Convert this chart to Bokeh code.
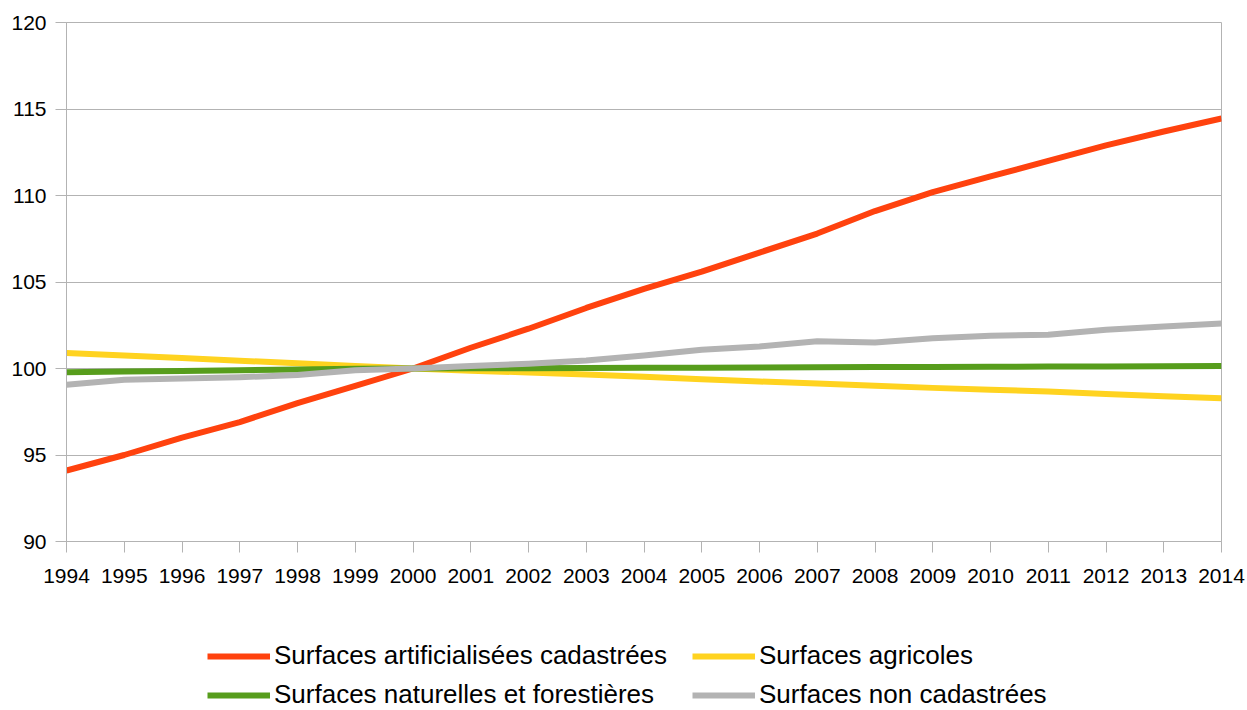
from bokeh.plotting import figure
from bokeh.models import Range1d, FixedTicker, Legend, LegendItem
from bokeh.layouts import column
from bokeh.embed import file_html
from bokeh.resources import INLINE

years = list(range(1994, 2015))
artificialisees = [94.1, 95.0, 96.0, 96.9, 98.0, 99.0, 100.0, 101.2, 102.3, 103.5, 104.6,
                   105.6, 106.7, 107.8, 109.1, 110.2, 111.1, 112.0, 112.9, 113.7, 114.45]
agricoles = [100.9, 100.75, 100.6, 100.45, 100.3, 100.15, 100.0, 99.87, 99.77, 99.66, 99.52,
             99.38, 99.25, 99.13, 99.0, 98.88, 98.77, 98.67, 98.53, 98.4, 98.28]
naturelles = [99.78, 99.82, 99.86, 99.9, 99.94, 99.98, 100.0, 100.01, 100.02, 100.03, 100.04,
              100.05, 100.06, 100.07, 100.08, 100.09, 100.1, 100.11, 100.12, 100.13, 100.14]
non_cadastrees = [99.06, 99.35, 99.42, 99.5, 99.62, 99.9, 100.0, 100.15, 100.27, 100.46, 100.75,
                  101.08, 101.27, 101.58, 101.5, 101.75, 101.9, 101.95, 102.24, 102.43, 102.6]

series_names = ["Surfaces artificialisées cadastrées", "Surfaces agricoles",
                "Surfaces naturelles et forestières", "Surfaces non cadastrées"]
series_values = [artificialisees, agricoles, naturelles, non_cadastrees]
colors = ["#ff420e", "#ffd320", "#579d1c", "#b3b3b3"]

y_ticks = [90, 95, 100, 105, 110, 115, 120]

FONT = "Liberation Sans"
GRID = "#b3b3b3"

# ---- main chart ----
p = figure(width=1247, height=600, output_backend="svg", toolbar_location=None,
           x_range=Range1d(1994, 2014), y_range=Range1d(90, 120),
           min_border_left=66, min_border_right=26, min_border_top=22, min_border_bottom=59)

p.background_fill_color = "white"
p.border_fill_color = "white"
p.outline_line_color = GRID
p.outline_line_width = 1

p.xgrid.visible = False
p.ygrid.grid_line_color = GRID
p.ygrid.grid_line_width = 1

p.xaxis.ticker = FixedTicker(ticks=years)
p.yaxis.ticker = FixedTicker(ticks=y_ticks)
for ax in (p.xaxis, p.yaxis):
    ax.axis_line_color = GRID
    ax.axis_line_width = 1
    ax.major_tick_line_color = GRID
    ax.major_tick_out = 11
    ax.major_tick_in = 0
    ax.minor_tick_line_color = None
    ax.major_label_text_font = FONT
    ax.major_label_text_font_size = "21px"
    ax.major_label_text_color = "black"
p.xaxis.major_label_standoff = 16
p.yaxis.major_label_standoff = 9

for vals, col in zip(series_values, colors):
    p.line(years, vals, line_color=col, line_width=6, line_join="round")

# ---- legend strip below the chart ----
lg = figure(width=1247, height=110, output_backend="svg", toolbar_location=None,
            x_range=Range1d(0, 1), y_range=Range1d(0, 1),
            min_border_left=0, min_border_right=0, min_border_top=0, min_border_bottom=0)
lg.axis.visible = False
lg.grid.visible = False
lg.outline_line_color = None
lg.background_fill_color = "white"
lg.border_fill_color = "white"

items = []
for name, vals, col in zip(series_names, series_values, colors):
    # same series, outside this strip's visible range: only its legend swatch shows
    r = lg.line(years, vals, line_color=col, line_width=6)
    items.append(LegendItem(label=name, renderers=[r]))

legend = Legend(items=items, orientation="horizontal", ncols=2,
                location=(141, 0), padding=0, margin=0, spacing=8,
                glyph_width=63, glyph_height=20, label_standoff=4, label_width=410,
                label_text_font=FONT, label_text_font_size="26px",
                label_text_color="black",
                border_line_color=None, background_fill_alpha=0)
lg.add_layout(legend, "center")

layout = column(p, lg, spacing=0)
open("out.html", "w").write(file_html(layout, INLINE))
